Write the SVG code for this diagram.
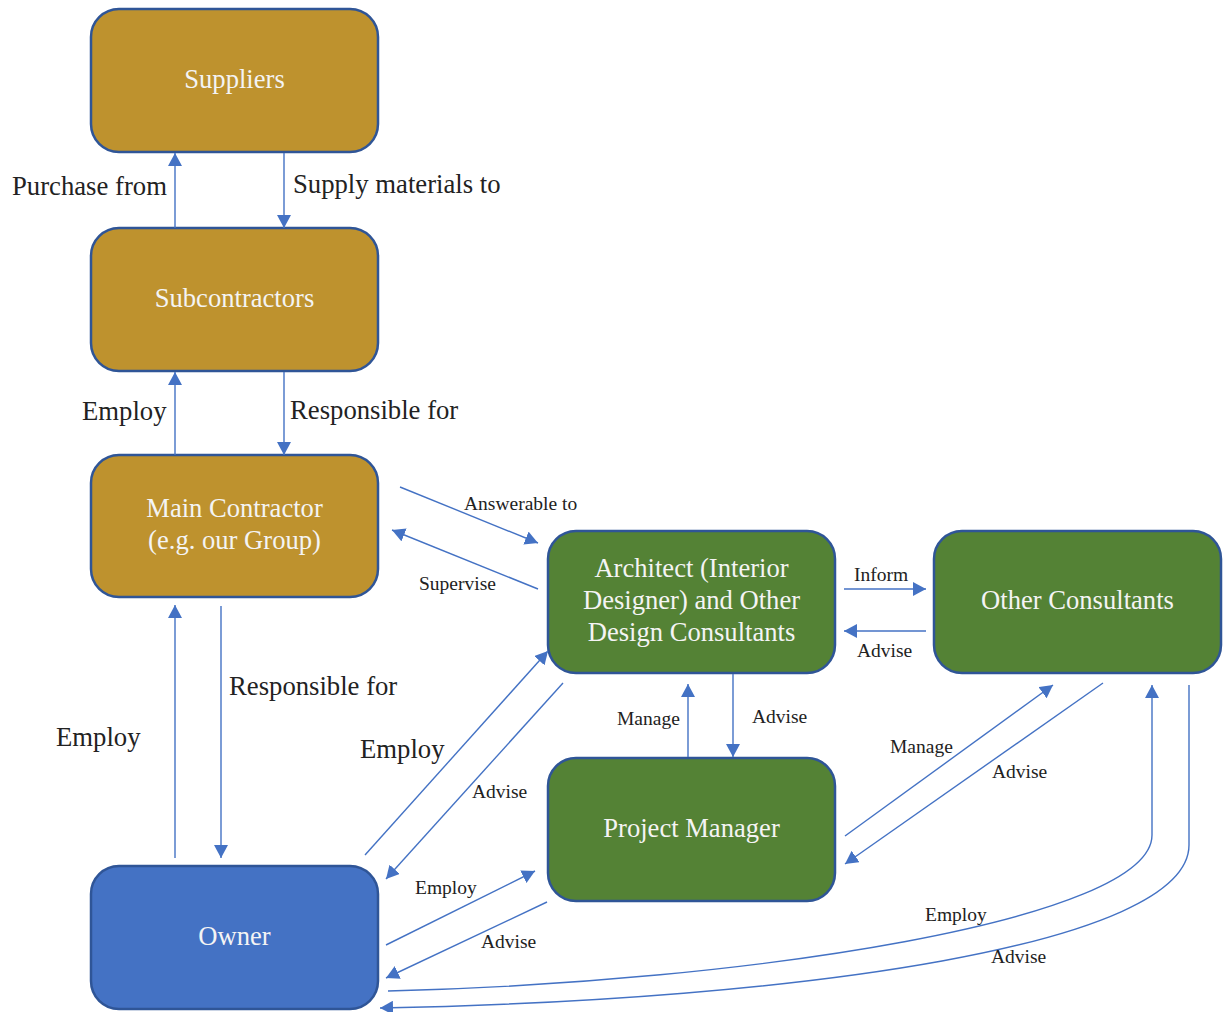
<svg xmlns="http://www.w3.org/2000/svg" width="1223" height="1012" viewBox="0 0 1223 1012">
<style>
.box{stroke:#2F5597;stroke-width:2.5}
.gold{fill:#BE922E}
.green{fill:#548235}
.blue{fill:#4472C4}
.bt{font-family:"Liberation Serif","Times New Roman",serif;font-size:26.6px;fill:#F4F4F4;text-anchor:middle}
.lb{font-family:"Liberation Serif","Times New Roman",serif;font-size:26.7px;fill:#222}
.ls{font-family:"Liberation Serif","Times New Roman",serif;font-size:19.5px;fill:#222}
.c{fill:none;stroke:#4472C4;stroke-width:1.4;marker-end:url(#ah)}
</style>
<defs>
<marker id="ah" markerUnits="userSpaceOnUse" markerWidth="14" markerHeight="14" refX="13" refY="7" orient="auto">
<path d="M0,0 L13,7 L0,14 z" fill="#4472C4"/>
</marker>
</defs>
<rect width="1223" height="1012" fill="#fff"/>
<g id="suppliers"><rect class="box gold" x="91" y="9" width="287" height="143" rx="28"/><text class="bt" x="234.5" y="88">Suppliers</text></g>
<g id="subcontractors"><rect class="box gold" x="91" y="228" width="287" height="143" rx="28"/><text class="bt" x="234.5" y="307">Subcontractors</text></g>
<g id="main-contractor"><rect class="box gold" x="91" y="455" width="287" height="142" rx="28"/><text class="bt" x="234.5" y="517">Main Contractor</text><text class="bt" x="234.5" y="549">(e.g. our Group)</text></g>
<g id="owner"><rect class="box blue" x="91" y="866" width="287" height="143" rx="28"/><text class="bt" x="234.5" y="945">Owner</text></g>
<g id="architect"><rect class="box green" x="548" y="531" width="287" height="142" rx="28"/><text class="bt" x="691.5" y="577">Architect (Interior</text><text class="bt" x="691.5" y="609">Designer) and Other</text><text class="bt" x="691.5" y="641">Design Consultants</text></g>
<g id="other-consultants"><rect class="box green" x="934" y="531" width="287" height="142" rx="28"/><text class="bt" x="1077.5" y="609">Other Consultants</text></g>
<g id="project-manager"><rect class="box green" x="548" y="758" width="287" height="143" rx="28"/><text class="bt" x="691.5" y="837">Project Manager</text></g>
<g id="connectors">
<line class="c" x1="175" y1="228" x2="175" y2="153"/>
<line class="c" x1="284" y1="153" x2="284" y2="228"/>
<line class="c" x1="175" y1="455" x2="175" y2="372"/>
<line class="c" x1="284" y1="372" x2="284" y2="455"/>
<line class="c" x1="175" y1="858" x2="175" y2="605"/>
<line class="c" x1="221" y1="606" x2="221" y2="858"/>
<line class="c" x1="400" y1="487" x2="538" y2="543"/>
<line class="c" x1="538" y1="589" x2="392" y2="530"/>
<line class="c" x1="844" y1="589" x2="926" y2="589"/>
<line class="c" x1="926" y1="631" x2="844" y2="631"/>
<line class="c" x1="688" y1="757" x2="688" y2="684"/>
<line class="c" x1="733" y1="674" x2="733" y2="757"/>
<line class="c" x1="365" y1="855" x2="548" y2="651"/>
<line class="c" x1="563" y1="683" x2="386" y2="879"/>
<line class="c" x1="386" y1="945" x2="535" y2="871"/>
<line class="c" x1="547" y1="902" x2="386" y2="978"/>
<line class="c" x1="845" y1="836" x2="1053" y2="685"/>
<line class="c" x1="1103" y1="683" x2="845" y2="864"/>
<path class="c" d="M388,991 C750,982 1152,920 1152,835 L1152,685"/>
<path class="c" d="M1189,685 L1189,845 C1189,945 800,1000 380,1008"/>
</g>
<g id="labels">
<text class="lb" x="12" y="195">Purchase from</text>
<text class="lb" x="293" y="193">Supply materials to</text>
<text class="lb" x="82" y="420">Employ</text>
<text class="lb" x="290" y="419">Responsible for</text>
<text class="lb" x="56" y="746">Employ</text>
<text class="lb" x="229" y="695">Responsible for</text>
<text class="lb" x="360" y="758">Employ</text>
<text class="ls" x="464" y="510">Answerable to</text>
<text class="ls" x="419" y="590">Supervise</text>
<text class="ls" x="854" y="581">Inform</text>
<text class="ls" x="857" y="657">Advise</text>
<text class="ls" x="617" y="725">Manage</text>
<text class="ls" x="752" y="723">Advise</text>
<text class="ls" x="472" y="798">Advise</text>
<text class="ls" x="415" y="894">Employ</text>
<text class="ls" x="481" y="948">Advise</text>
<text class="ls" x="890" y="753">Manage</text>
<text class="ls" x="992" y="778">Advise</text>
<text class="ls" x="925" y="921">Employ</text>
<text class="ls" x="991" y="963">Advise</text>
</g>
</svg>
